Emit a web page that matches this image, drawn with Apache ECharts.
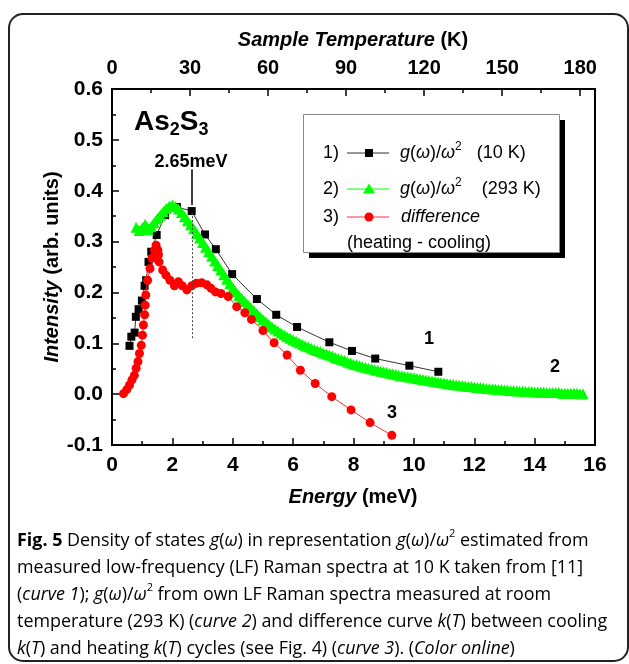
<!DOCTYPE html>
<html><head><meta charset="utf-8">
<script src="https://cdn.jsdelivr.net/npm/echarts@6/dist/echarts.min.js"></script>
<style>html,body{margin:0;padding:0;background:#fff}#c{width:629px;height:664px}</style>
</head><body><div id="c"></div>
<script>
// ---- tick labels ----
const energyTicks = [0, 2, 4, 6, 8, 10, 12, 14, 16];
const tempTicks = [0, 30, 60, 90, 120, 150, 180];
const intensityTicks = [-0.1, 0.0, 0.1, 0.2, 0.3, 0.4, 0.5, 0.6];
const kelvinPerMeV = 11.605;

// ---- curve 1: g(w)/w^2 at 10 K ----
const curve1E = [0.58,0.64,0.75,0.79,0.88,0.99,1.08,1.13,1.21,1.30,1.48,1.76,2.15,2.64,3.08,3.44,3.98,4.80,5.44,6.13,7.20,7.95,8.72,9.85,10.81];
const curve1I = [0.095,0.113,0.121,0.152,0.167,0.184,0.213,0.224,0.260,0.280,0.313,0.352,0.368,0.360,0.314,0.285,0.236,0.187,0.156,0.132,0.102,0.085,0.070,0.056,0.044];

// ---- curve 2: g(w)/w^2 at 293 K ----
const curve2E = [0.8,0.9,1.0,1.1,1.2,1.3,1.4,1.5,1.6,1.7,1.8,1.9,2.0,2.1,2.2,2.3,2.4,2.5,2.6,2.7,2.8,2.9,3.0,3.1,3.2,3.3,3.4,3.5,3.6,3.7,3.8,3.9,4.0,4.1,4.2,4.3,4.4,4.5,4.6,4.7,4.8,4.9,5.0,5.1,5.2,5.3,5.4,5.5,5.6,5.7,5.8,5.9,6.0,6.1,6.2,6.3,6.4,6.5,6.6,6.7,6.8,6.9,7.0,7.1,7.2,7.3,7.4,7.5,7.6,7.7,7.8,7.9,8.0,8.1,8.2,8.3,8.4,8.5,8.6,8.7,8.8,8.9,9.0,9.1,9.2,9.3,9.4,9.5,9.6,9.7,9.8,9.9,10.0,10.1,10.2,10.3,10.4,10.5,10.6,10.7,10.8,10.9,11.0,11.1,11.2,11.3,11.4,11.5,11.6,11.7,11.8,11.9,12.0,12.1,12.2,12.3,12.4,12.5,12.6,12.7,12.8,12.9,13.0,13.1,13.2,13.3,13.4,13.5,13.6,13.7,13.8,13.9,14.0,14.1,14.2,14.3,14.4,14.5,14.6,14.7,14.8,14.9,15.0,15.1,15.2,15.3,15.4,15.5,15.6];
const curve2I = [0.328,0.322,0.326,0.334,0.323,0.329,0.337,0.345,0.352,0.359,0.365,0.370,0.372,0.369,0.364,0.357,0.349,0.341,0.333,0.325,0.316,0.307,0.298,0.289,0.280,0.271,0.262,0.253,0.244,0.235,0.226,0.217,0.209,0.201,0.194,0.188,0.182,0.176,0.170,0.164,0.158,0.152,0.147,0.142,0.137,0.132,0.128,0.124,0.120,0.117,0.113,0.110,0.107,0.104,0.101,0.098,0.095,0.093,0.090,0.088,0.086,0.084,0.081,0.079,0.077,0.075,0.072,0.070,0.068,0.066,0.063,0.061,0.059,0.058,0.056,0.054,0.053,0.051,0.050,0.048,0.047,0.045,0.044,0.043,0.041,0.040,0.039,0.037,0.036,0.035,0.034,0.033,0.032,0.031,0.030,0.029,0.028,0.027,0.026,0.025,0.024,0.023,0.022,0.021,0.020,0.019,0.018,0.018,0.017,0.016,0.015,0.015,0.014,0.013,0.013,0.012,0.011,0.011,0.010,0.010,0.009,0.009,0.008,0.008,0.007,0.007,0.006,0.006,0.006,0.005,0.005,0.005,0.004,0.004,0.004,0.004,0.003,0.003,0.003,0.003,0.003,0.002,0.002,0.002,0.002,0.002,0.002,0.001,0.001];

// ---- curve 3: difference (heating - cooling) ----
const curve3E = [0.38,0.49,0.58,0.66,0.74,0.80,0.86,0.91,0.97,1.01,1.04,1.08,1.10,1.12,1.18,1.26,1.32,1.41,1.46,1.52,1.54,1.56,1.68,1.79,1.92,2.07,2.20,2.33,2.48,2.64,2.80,2.97,3.14,3.28,3.43,3.61,3.85,4.13,4.40,4.62,5.00,5.37,5.80,6.24,6.73,7.28,7.92,8.55,9.27];
const curve3I = [0.001,0.009,0.018,0.028,0.037,0.051,0.064,0.080,0.096,0.116,0.136,0.156,0.175,0.195,0.224,0.247,0.267,0.283,0.293,0.283,0.274,0.260,0.244,0.234,0.224,0.213,0.221,0.213,0.205,0.213,0.218,0.219,0.215,0.208,0.201,0.198,0.192,0.172,0.160,0.147,0.125,0.101,0.077,0.047,0.021,-0.005,-0.031,-0.056,-0.081];

// ---- annotation values ----
const peakE = 2.65;
const peakLabel = '2.65meV';
const dropLine = [0.110, 0.356];
const arrowLine = [0.442, 0.372];

const F = "'Liberation Sans', Arial, sans-serif";
const CF = "'Open Sans', 'Noto Sans', sans-serif";
const zip = (a, b) => a.map((v, i) => [v, b[i]]);

const chart = echarts.init(document.getElementById('c'), null, {renderer: 'canvas'});

const tickStyle = {color: '#000', width: 1.5};
const axLine = {show: true, onZero: false, lineStyle: {color: '#000', width: 2}};
const lblBase = {fontFamily: F, fontWeight: 'bold', fontSize: 21, color: '#000'};

const CS = 17.9;
const capRich = {
  n: {fontFamily: CF, fontSize: CS, color: '#231f20', lineHeight: 26},
  i: {fontFamily: CF, fontSize: CS, fontStyle: 'italic', color: '#231f20', lineHeight: 26},
  b: {fontFamily: CF, fontSize: CS, fontWeight: 'bold', color: '#231f20', lineHeight: 26},
  s: {fontFamily: CF, fontSize: 11, color: '#231f20', lineHeight: 13, verticalAlign: 'top'}
};
const capLines = [
  '{b|Fig. 5}{n| Density of states }{i|g}{n|(}{i|ω}{n|) in representation }{i|g}{n|(}{i|ω}{n|)/}{i|ω}{s|2}{n| estimated from}',
  '{n|measured low-frequency (LF) Raman spectra at 10 K taken from [11]}',
  '{n|(}{i|curve 1}{n|); }{i|g}{n|(}{i|ω}{n|)/}{i|ω}{s|2}{n| from own LF Raman spectra measured at room}',
  '{n|temperature (293 K) (}{i|curve 2}{n|) and difference curve }{i|k}{n|(}{i|T}{n|) between cooling}',
  '{i|k}{n|(}{i|T}{n|) and heating }{i|k}{n|(}{i|T}{n|) cycles (see Fig. 4) (}{i|curve 3}{n|). (}{i|Color online}{n|)}'
];
const capY = [541, 568, 595, 622, 649];

const legRich = {
  n: {fontFamily: F, fontSize: 18, color: '#000', lineHeight: 24},
  i: {fontFamily: F, fontSize: 18, fontStyle: 'italic', color: '#000', lineHeight: 24},
  s: {fontFamily: F, fontSize: 12, color: '#000', lineHeight: 12, verticalAlign: 'top'}
};

const graphics = [
  {type: 'rect', silent: true, shape: {x: 9, y: 14, width: 619, height: 647, r: 14}, style: {fill: 'none', stroke: '#222', lineWidth: 2}},
  {type: 'text', x: 353, y: 40, style: {text: '{a|Sample Temperature}{b| (K)}', align: 'center', verticalAlign: 'middle',
    rich: {a: {fontFamily: F, fontSize: 20, fontWeight: 'bold', fontStyle: 'italic', fill: '#000'}, b: {fontFamily: F, fontSize: 20, fontWeight: 'bold', fill: '#000'}}}},
  {type: 'text', x: 353, y: 497, style: {text: '{a|Energy}{b| (meV)}', align: 'center', verticalAlign: 'middle',
    rich: {a: {fontFamily: F, fontSize: 20, fontWeight: 'bold', fontStyle: 'italic', fill: '#000'}, b: {fontFamily: F, fontSize: 20, fontWeight: 'bold', fill: '#000'}}}},
  {type: 'text', x: 52, y: 267, rotation: Math.PI / 2, style: {text: '{a|Intensity}{b| (arb. units)}', align: 'center', verticalAlign: 'middle',
    rich: {a: {fontFamily: F, fontSize: 20, fontWeight: 'bold', fontStyle: 'italic', fill: '#000'}, b: {fontFamily: F, fontSize: 20, fontWeight: 'bold', fill: '#000'}}}},
  {type: 'text', x: 134, y: 122, style: {text: '{b|As}{s|2}{b|S}{s|3}', align: 'left', verticalAlign: 'middle',
    rich: {b: {fontFamily: F, fontSize: 28, fontWeight: 'bold', fill: '#000', lineHeight: 34}, s: {fontFamily: F, fontSize: 18, fontWeight: 'bold', fill: '#000', lineHeight: 14, verticalAlign: 'bottom'}}}},
  {type: 'text', x: 191, y: 162, style: {text: peakLabel, align: 'center', verticalAlign: 'middle', font: "bold 18px 'Liberation Sans', Arial", fill: '#000'}},
  {type: 'text', x: 429, y: 339, style: {text: '1', align: 'center', verticalAlign: 'middle', font: "bold 18px 'Liberation Sans', Arial", fill: '#000'}},
  {type: 'text', x: 555, y: 367, style: {text: '2', align: 'center', verticalAlign: 'middle', font: "bold 18px 'Liberation Sans', Arial", fill: '#000'}},
  {type: 'text', x: 392, y: 413, style: {text: '3', align: 'center', verticalAlign: 'middle', font: "bold 18px 'Liberation Sans', Arial", fill: '#000'}},
  // legend box
  {type: 'rect', shape: {x: 309, y: 120, width: 256, height: 138}, style: {fill: '#000'}, z: 10},
  {type: 'rect', shape: {x: 303.5, y: 114.5, width: 256, height: 138}, style: {fill: '#fff', stroke: '#8a8a8a', lineWidth: 1}, z: 11},
  {type: 'text', x: 323, y: 153, z: 12, style: {text: '1)', verticalAlign: 'middle', font: "18px 'Liberation Sans', Arial", fill: '#000'}},
  {type: 'line', z: 12, shape: {x1: 347, y1: 153, x2: 389, y2: 153}, style: {stroke: '#333', lineWidth: 1}},
  {type: 'rect', z: 13, shape: {x: 365, y: 149, width: 8, height: 8}, style: {fill: '#000'}},
  {type: 'text', x: 400, y: 153, z: 12, style: {text: '{i|g}{n|(}{i|ω}{n|)/}{i|ω}{s|2}{n|   (10 K)}', verticalAlign: 'middle', rich: legRich}},
  {type: 'text', x: 323, y: 189, z: 12, style: {text: '2)', verticalAlign: 'middle', font: "18px 'Liberation Sans', Arial", fill: '#000'}},
  {type: 'line', z: 12, shape: {x1: 347, y1: 189, x2: 389, y2: 189}, style: {stroke: '#00ff00', lineWidth: 1}},
  {type: 'polygon', z: 13, shape: {points: [[369, 183.5], [375, 193.5], [363, 193.5]]}, style: {fill: '#00ff00'}},
  {type: 'text', x: 400, y: 189, z: 12, style: {text: '{i|g}{n|(}{i|ω}{n|)/}{i|ω}{s|2}{n|    (293 K)}', verticalAlign: 'middle', rich: legRich}},
  {type: 'text', x: 323, y: 217, z: 12, style: {text: '3)', verticalAlign: 'middle', font: "18px 'Liberation Sans', Arial", fill: '#000'}},
  {type: 'line', z: 12, shape: {x1: 347, y1: 217, x2: 389, y2: 217}, style: {stroke: '#ff3030', lineWidth: 1}},
  {type: 'circle', z: 13, shape: {cx: 369, cy: 217, r: 4.5}, style: {fill: '#ff0000'}},
  {type: 'text', x: 401, y: 217, z: 12, style: {text: 'difference', verticalAlign: 'middle', font: "italic 18px 'Liberation Sans', Arial", fill: '#000'}},
  {type: 'text', x: 347, y: 243, z: 12, style: {text: '(heating - cooling)', verticalAlign: 'middle', font: "18px 'Liberation Sans', Arial", fill: '#000'}}
];
capLines.forEach((t, k) => graphics.push({type: 'text', x: 17, y: capY[k], style: {text: t, verticalAlign: 'middle', rich: capRich}}));

const option = {
  animation: false,
  backgroundColor: '#fff',
  grid: {left: 112, top: 89, right: 34, bottom: 219, show: true, borderColor: '#000', borderWidth: 2, backgroundColor: 'transparent'},
  xAxis: [
    {type: 'value', position: 'bottom', min: energyTicks[0], max: energyTicks[energyTicks.length - 1], interval: 2,
      axisLine: axLine, axisTick: {inside: true, length: 7, lineStyle: tickStyle},
      minorTick: {show: true, splitNumber: 2, length: 4, lineStyle: tickStyle},
      splitLine: {show: false}, minorSplitLine: {show: false},
      axisLabel: Object.assign({}, lblBase, {margin: 10, formatter: v => energyTicks.includes(v) ? String(v) : ''})},
    {type: 'value', position: 'top', min: 0, max: energyTicks[energyTicks.length - 1] * kelvinPerMeV, interval: 30,
      axisLine: axLine, axisTick: {inside: true, length: 7, lineStyle: tickStyle},
      minorTick: {show: true, splitNumber: 2, length: 4, lineStyle: tickStyle},
      splitLine: {show: false}, minorSplitLine: {show: false},
      axisLabel: Object.assign({}, lblBase, {fontSize: 20, margin: 11, showMaxLabel: false, formatter: v => tempTicks.includes(v) ? String(v) : ''})}
  ],
  yAxis: [
    {type: 'value', min: intensityTicks[0], max: intensityTicks[intensityTicks.length - 1], interval: 0.1,
      axisLine: axLine, axisTick: {inside: true, length: 7, lineStyle: tickStyle},
      minorTick: {show: true, splitNumber: 2, length: 4, lineStyle: tickStyle},
      splitLine: {show: false}, minorSplitLine: {show: false},
      axisLabel: Object.assign({}, lblBase, {margin: 9, formatter: v => (Math.abs(v) < 1e-9 ? 0 : v).toFixed(1)})}
  ],
  series: [
    {type: 'line', name: 'g/w2 (10 K)', xAxisIndex: 0, data: zip(curve1E, curve1I), symbol: 'rect', symbolSize: 8,
      itemStyle: {color: '#000'}, lineStyle: {color: '#333', width: 1}, z: 2,
      markLine: {silent: true, symbol: ['none', 'none'], label: {show: false}, lineStyle: {color: '#444', width: 1, type: [2, 2]},
        data: [[{coord: [peakE, dropLine[0]]}, {coord: [peakE, dropLine[1]]}]]}},
    {type: 'line', name: 'g/w2 (293 K)', xAxisIndex: 0, data: zip(curve2E, curve2I), symbol: 'triangle', symbolSize: 11,
      itemStyle: {color: '#00ff00'}, lineStyle: {color: '#00ff00', width: 6}, z: 3},
    {type: 'line', name: 'difference', xAxisIndex: 0, data: zip(curve3E, curve3I), symbol: 'circle', symbolSize: 9,
      itemStyle: {color: '#ff0000'}, lineStyle: {color: '#ff3030', width: 1}, z: 4,
      markLine: {silent: true, symbol: ['none', 'arrow'], symbolSize: [0, 10], label: {show: false}, lineStyle: {color: '#000', width: 1.5, type: 'solid'},
        data: [[{coord: [peakE, arrowLine[0]]}, {coord: [peakE, arrowLine[1]]}]]}}
  ],
  graphic: graphics
};
chart.setOption(option);
</script>
</body></html>
